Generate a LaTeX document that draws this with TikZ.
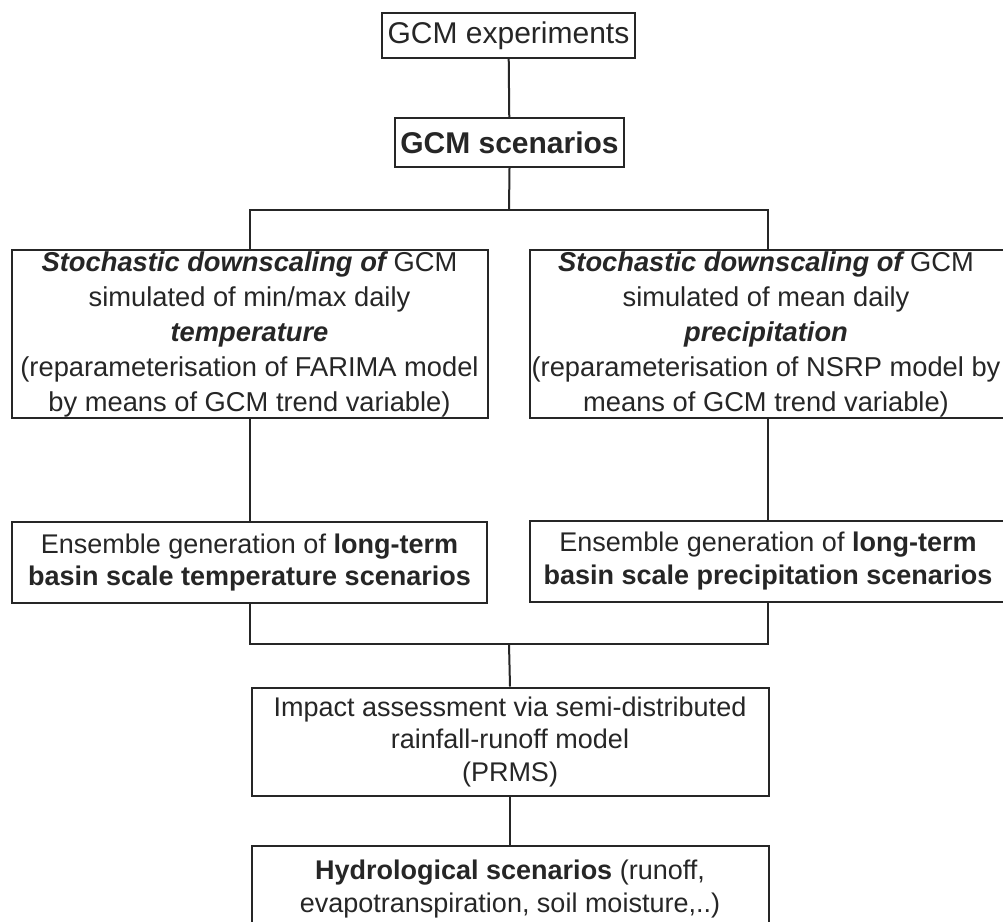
\documentclass[tikz,border=0pt]{standalone}
\usepackage{fontspec}
\setmainfont{Liberation Sans}
\begin{document}
\begin{tikzpicture}[x=1pt,y=-1pt,
  box/.style={draw=black!85,line width=2pt,rectangle,inner sep=0pt,align=center,text=black!85},
  link/.style={draw=black!85,line width=2pt},
  topfont/.style={font=\fontsize{30}{36}\selectfont},
  bigfont/.style={font=\fontsize{27.3}{35}\selectfont},
  midfont/.style={font=\fontsize{27}{32.5}\selectfont}]
\useasboundingbox (0,0) rectangle (1003,921);
\fill[white] (0,0) rectangle (1003,921);
\node[box,topfont,minimum width=253pt,minimum height=45pt] (exp) at (508.5,35.5) {GCM experiments};
\node[box,topfont,minimum width=229pt,minimum height=49pt] (scen) at (509.5,142.5) {\bfseries GCM scenarios};
\node[box,bigfont,minimum width=476pt,minimum height=168pt] (dl) at (249.5,334) {{\bfseries\itshape Stochastic downscaling of} GCM\\simulated of min/max daily\\{\bfseries\itshape temperature}\\(reparameterisation of FARIMA model\\by means of GCM trend variable)};
\node[box,bigfont,minimum width=476pt,minimum height=168pt] (dr) at (768,334) {};
\node[bigfont,align=center,text=black!85,inner sep=0pt] (drt) at (766,334) {{\bfseries\itshape Stochastic downscaling of} GCM\\simulated of mean daily\\{\bfseries\itshape precipitation}\\(reparameterisation of NSRP model by\\means of GCM trend variable)};
\node[box,midfont,minimum width=475pt,minimum height=81pt] (el) at (249.5,562.5) {Ensemble generation of \textbf{long-term}\\\textbf{basin scale temperature scenarios}};
\node[box,midfont,minimum width=476pt,minimum height=81pt] (er) at (768,561) {Ensemble generation of \textbf{long-term}\\\textbf{basin scale precipitation scenarios}};
\node[box,midfont,minimum width=517pt,minimum height=108pt] (imp) at (510,741.5) {Impact assessment via semi-distributed\\rainfall-runoff model\\(PRMS)};
\node[box,midfont,minimum width=517pt,minimum height=86pt] (hyd) at (510,889) {\textbf{Hydrological scenarios} (runoff,\\evapotranspiration, soil moisture,..)};
\coordinate (jt) at (509,210);
\coordinate (jb) at (509,644);
\draw[link] (exp) -- (scen);
\draw[link] (scen.south) -- (jt);
\draw[link] (dl.north) |- (jt) -| (dr.north);
\draw[link] (dl.south) -- (el.north);
\draw[link] (dr.south) -- (er.north);
\draw[link] (el.south) |- (jb) -| (er.south);
\draw[link] (jb) -- (imp.north);
\draw[link] (imp.south) -- (hyd.north);
\end{tikzpicture}
\end{document}
